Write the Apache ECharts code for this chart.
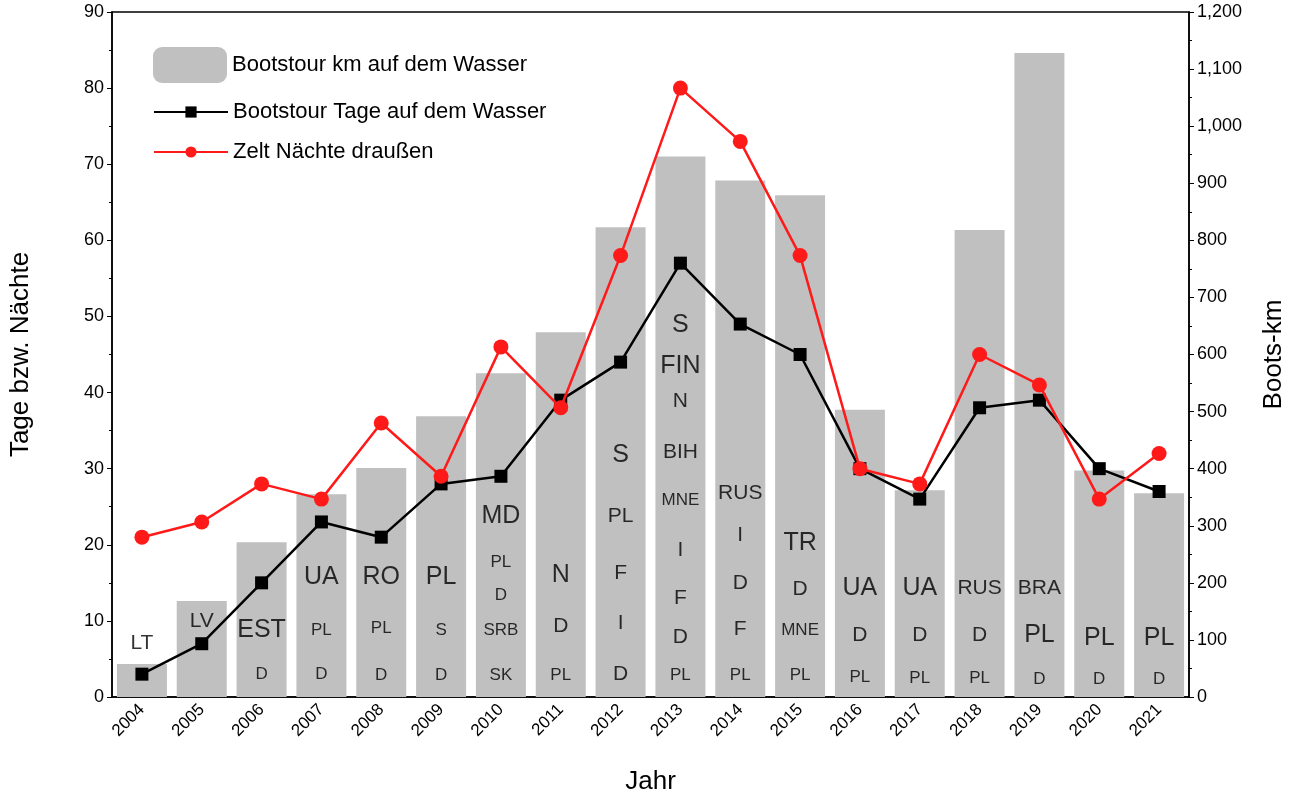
<!DOCTYPE html><html><head><meta charset="utf-8"><script src="https://cdn.jsdelivr.net/npm/echarts@6/dist/echarts.min.js"></script></head><body style="margin:0"><div id="c" style="width:1295px;height:803px"></div><script>
const years=['2004','2005','2006','2007','2008','2009','2010','2011','2012','2013','2014','2015','2016','2017','2018','2019','2020','2021'];
const km=[58,168,271,355,401,492,567,639,823,947,905,879,503,362,818,1128,397,357];
const tage=[3,7,15,23,21,28,29,39,44,57,49,45,30,26,38,39,30,27];
const naechte=[21,23,28,26,36,29,46,38,58,80,73,58,30,28,45,41,26,32];
// [year index, label, y value (left axis), size class]
const countries=[
[0,'LT',7.1,'m'],[1,'LV',9.9,'m'],
[2,'EST',8.8,'l'],[2,'D',3,'s'],
[3,'UA',15.8,'l'],[3,'PL',8.8,'s'],[3,'D',3,'s'],
[4,'RO',15.8,'l'],[4,'PL',9,'s'],[4,'D',2.8,'s'],
[5,'PL',15.8,'l'],[5,'S',8.8,'s'],[5,'D',2.8,'s'],
[6,'MD',23.8,'l'],[6,'PL',17.7,'s'],[6,'D',13.4,'s'],[6,'SRB',8.7,'s'],[6,'SK',2.9,'s'],
[7,'N',16,'l'],[7,'D',9.3,'m'],[7,'PL',2.8,'s'],
[8,'S',31.8,'l'],[8,'PL',23.8,'m'],[8,'F',16.3,'m'],[8,'I',9.7,'m'],[8,'D',3,'m'],
[9,'S',48.9,'l'],[9,'FIN',43.5,'l'],[9,'N',38.9,'m'],[9,'BIH',32.2,'m'],[9,'MNE',25.9,'s'],[9,'I',19.3,'m'],[9,'F',13,'m'],[9,'D',7.9,'m'],[9,'PL',2.9,'s'],
[10,'RUS',26.8,'m'],[10,'I',21.3,'m'],[10,'D',15,'m'],[10,'F',8.9,'m'],[10,'PL',2.9,'s'],
[11,'TR',20.2,'l'],[11,'D',14.2,'m'],[11,'MNE',8.7,'s'],[11,'PL',2.9,'s'],
[12,'UA',14.3,'l'],[12,'D',8.1,'m'],[12,'PL',2.6,'s'],
[13,'UA',14.3,'l'],[13,'D',8.1,'m'],[13,'PL',2.4,'s'],
[14,'RUS',14.3,'m'],[14,'D',8.1,'m'],[14,'PL',2.4,'s'],
[15,'BRA',14.3,'m'],[15,'PL',8.1,'l'],[15,'D',2.3,'s'],
[16,'PL',7.7,'l'],[16,'D',2.3,'s'],
[17,'PL',7.7,'l'],[17,'D',2.3,'s']];
const sizes={s:17,m:21,l:25};
const F='Liberation Sans, Arial, sans-serif';
const ch=echarts.init(document.getElementById('c'));
ch.setOption({
animation:false,
textStyle:{fontFamily:F},
grid:{left:110,right:105,top:12,bottom:106,show:true,borderColor:'#000',borderWidth:1.5,backgroundColor:'#fff'},
legend:[{left:148,top:42,orient:'vertical',itemWidth:74,itemHeight:36,data:['Bootstour km auf dem Wasser'],textStyle:{fontSize:22,color:'#000',fontFamily:F}},
{left:148,top:96,orient:'vertical',itemWidth:74,itemHeight:14,itemGap:18,data:['Bootstour Tage auf dem Wasser','Zelt Nächte draußen'],textStyle:{fontSize:22,color:'#000',fontFamily:F}}],
xAxis:{type:'category',data:years,name:'Jahr',nameLocation:'middle',nameGap:72,nameTextStyle:{fontSize:26,color:'#000'},
axisLine:{lineStyle:{color:'#000',width:1.5}},axisTick:{alignWithLabel:true,lineStyle:{color:'#000'}},axisLabel:{rotate:45,fontSize:17,color:'#000',margin:10}},
yAxis:[{type:'value',min:0,max:90,interval:10,name:'Tage bzw. Nächte',nameLocation:'middle',nameGap:78,nameTextStyle:{fontSize:26,color:'#000'},
axisLine:{show:true,lineStyle:{color:'#000',width:1.5}},axisTick:{show:true,lineStyle:{color:'#000'}},minorTick:{show:true,splitNumber:2,lineStyle:{color:'#000'}},splitLine:{show:false},axisLabel:{fontSize:18,color:'#000'}},
{type:'value',min:0,max:1200,interval:100,name:'Boots-km',nameLocation:'middle',nameGap:72,nameRotate:90,nameTextStyle:{fontSize:26,color:'#000'},
axisLine:{show:true,lineStyle:{color:'#000',width:1.5}},axisTick:{show:true,lineStyle:{color:'#000'}},minorTick:{show:true,splitNumber:2,lineStyle:{color:'#000'}},splitLine:{show:false},axisLabel:{fontSize:18,color:'#000'}}],
series:[
{name:'Bootstour km auf dem Wasser',type:'bar',yAxisIndex:1,data:km,barWidth:50,itemStyle:{color:'#c0c0c0'},z:1},
{name:'Länder',type:'scatter',yAxisIndex:0,symbolSize:0,silent:true,z:3,
data:countries.map(c=>({value:[c[0],c[2]],label:{show:true,position:'inside',formatter:c[1],fontSize:sizes[c[3]],color:'#000',fontFamily:F}}))},
{name:'Bootstour Tage auf dem Wasser',type:'line',data:tage,symbol:'rect',symbolSize:13,itemStyle:{color:'#000'},lineStyle:{color:'#000',width:2.5},z:4},
{name:'Zelt Nächte draußen',type:'line',data:naechte,symbol:'circle',symbolSize:15,itemStyle:{color:'#ff1a1a'},lineStyle:{color:'#ff1a1a',width:2.5},z:5}
]});
</script></body></html>
